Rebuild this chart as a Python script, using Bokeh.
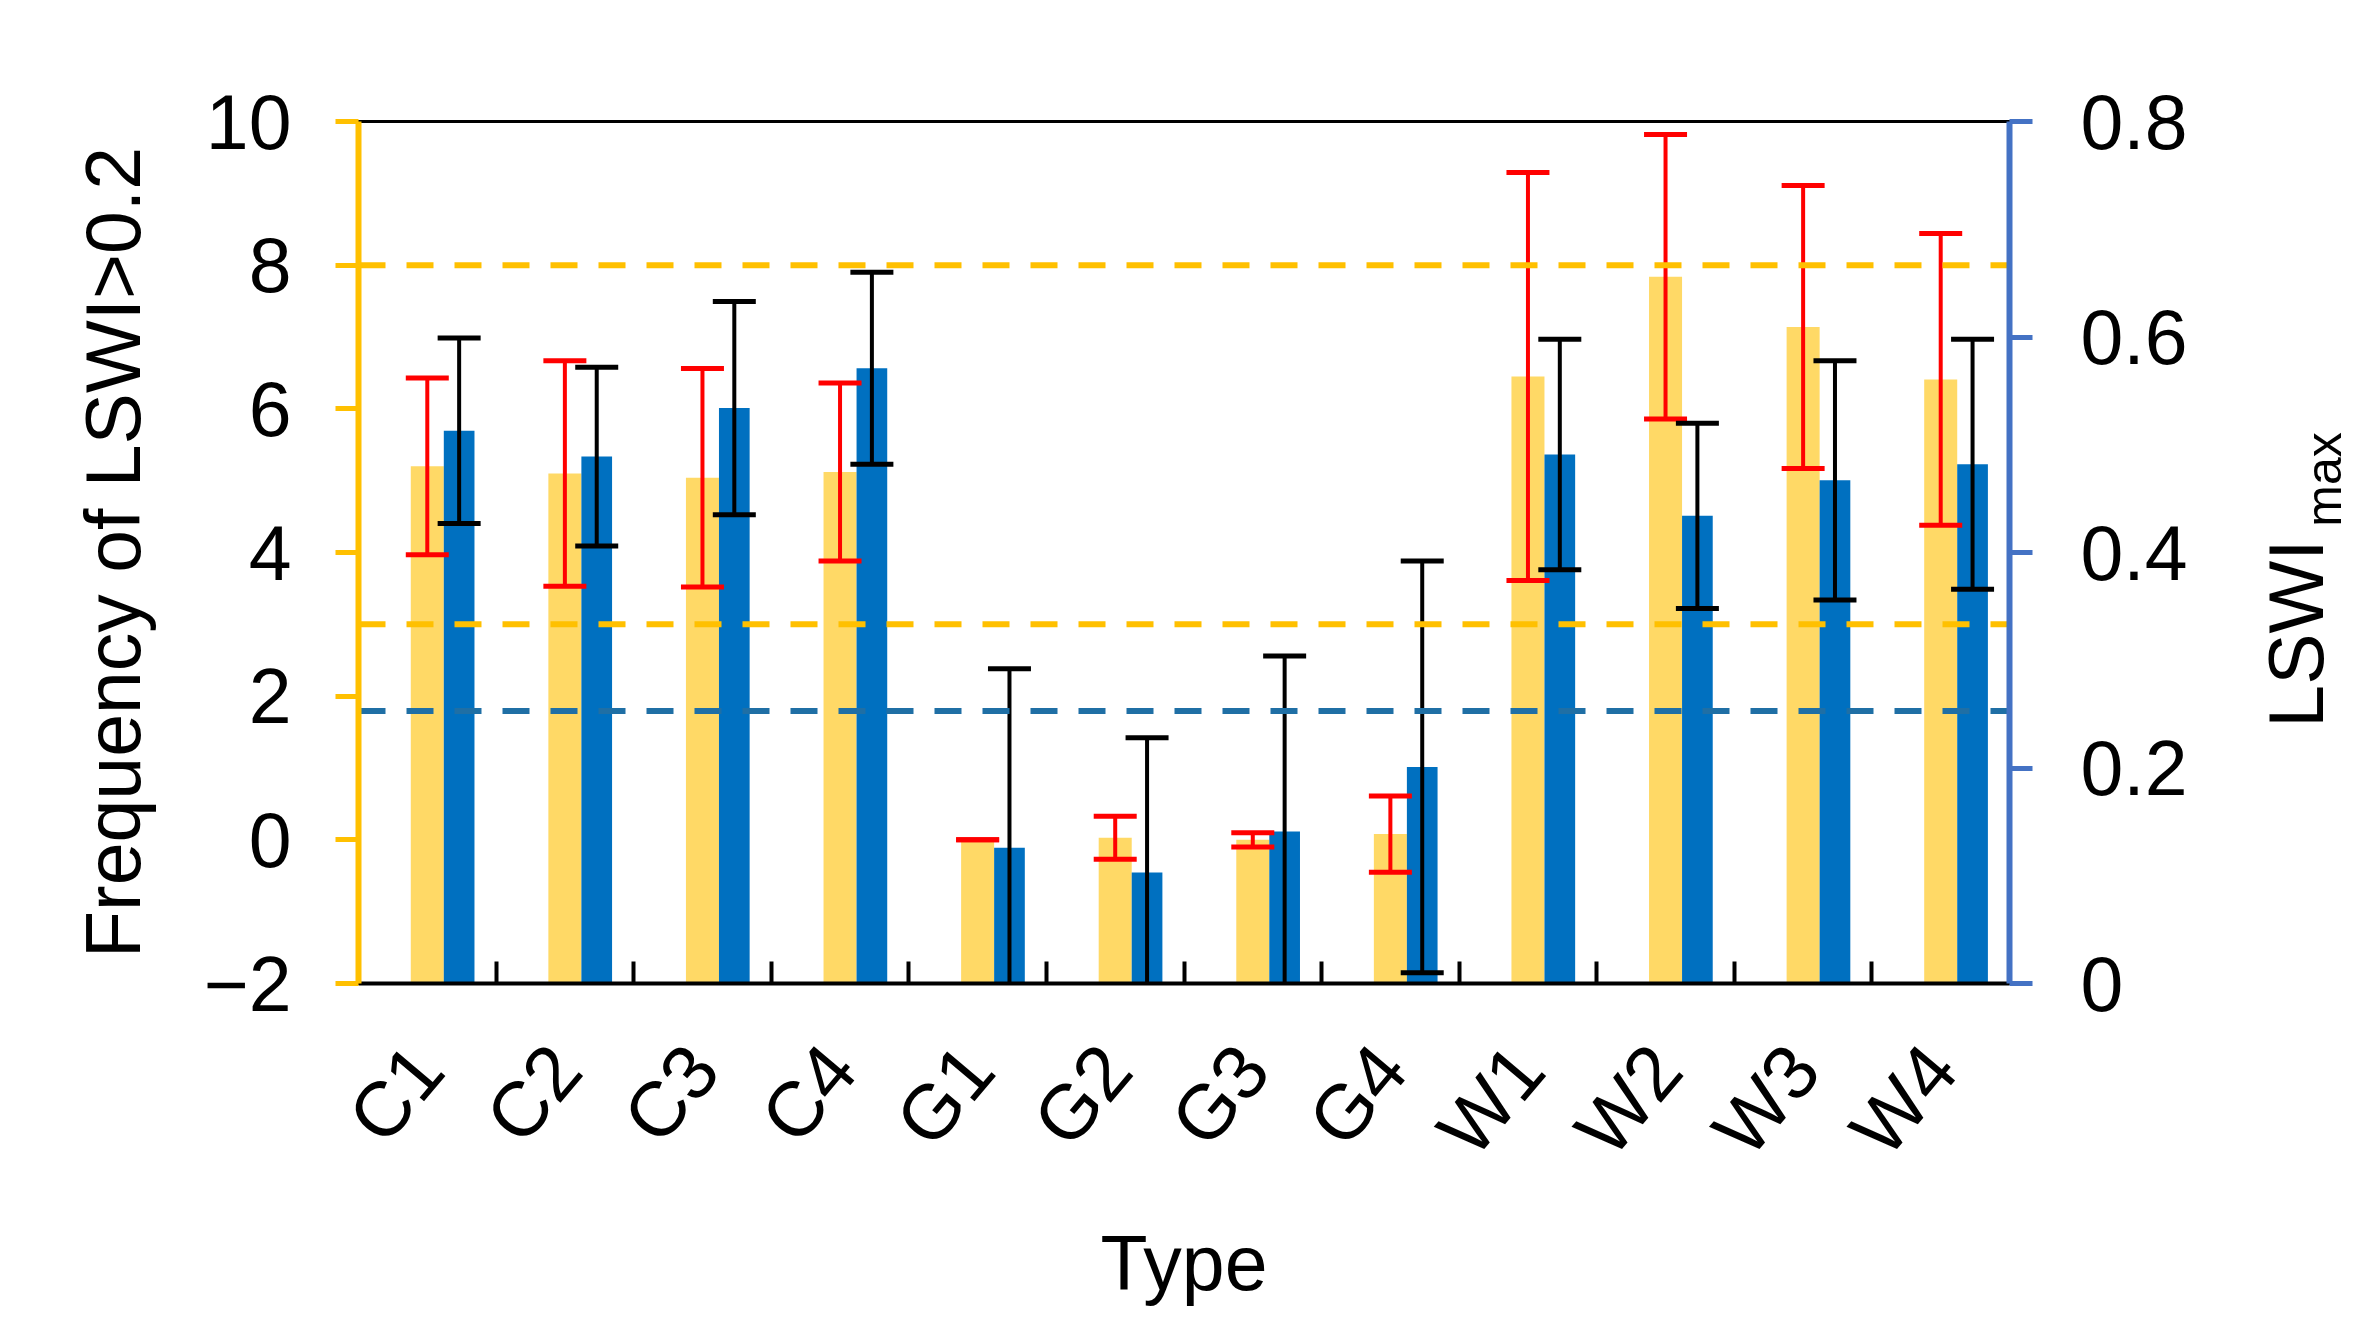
import math
import numpy as np
from bokeh.plotting import figure
from bokeh.layouts import row
from bokeh.models import Range1d, LinearAxis, FixedTicker, Span
from bokeh.core.properties import value
from bokeh.embed import file_html
from bokeh.resources import INLINE

# ---------------- data ----------------
categories = ["C1", "C2", "C3", "C4", "G1", "G2", "G3", "G4", "W1", "W2", "W3", "W4"]
freq_mean = [5.20, 5.10, 5.04, 5.12, 0.00, 0.03, 0.00, 0.08, 6.45, 7.84, 7.14, 6.41]
freq_sd = [1.23, 1.57, 1.52, 1.24, 0.00, 0.30, 0.10, 0.53, 2.84, 1.98, 1.97, 2.03]
lswi_mean = [0.513, 0.489, 0.534, 0.571, 0.126, 0.103, 0.141, 0.201, 0.491, 0.434, 0.467, 0.482]
lswi_sd = [0.086, 0.083, 0.099, 0.089, 0.166, 0.125, 0.163, 0.191, 0.107, 0.086, 0.111, 0.116]
freq_ticks = [-2, 0, 2, 4, 6, 8, 10]
freq_tick_labels = ["\u22122", "0", "2", "4", "6", "8", "10"]
lswi_ticks = [0, 0.2, 0.4, 0.6, 0.8]
lswi_tick_labels = ["0", "0.2", "0.4", "0.6", "0.8"]
freq_thresholds = [8, 3]
lswi_threshold = 0.253
right_title = "LSWI"
right_title_sub = "max"

# ---------------- styling ----------------
FONT = "Liberation Sans"
YELLOW_BAR = "#FFD966"
BLUE_BAR = "#0070C0"
AXIS_YELLOW = "#FFC000"
AXIS_BLUE = "#4472C4"
DASH_BLUE = "#1F6FA5"

TOTAL_W, H = 2355, 1326
MAIN_W = 2240

n = len(categories)
idx = np.arange(n)
x_yellow = idx + 0.5
x_blue = idx + 0.5 + 0.24 / 2 + 0.223 / 2

p = figure(width=MAIN_W, height=H, output_backend="svg", toolbar_location=None,
           x_range=Range1d(0, n), y_range=Range1d(-2, 10),
           frame_width=1651, frame_height=862,
           min_border_left=358, min_border_top=121, min_border_right=MAIN_W - 358 - 1651,
           min_border_bottom=343,
           background_fill_color="white", border_fill_color="white")
p.extra_y_ranges = {"lswi": Range1d(0, 0.8)}
p.grid.visible = False
p.outline_line_color = "black"
p.outline_line_width = 3

# x axis (category boundaries as inner minor ticks)
xa = p.xaxis[0]
xa.ticker = FixedTicker(ticks=list(x_yellow), minor_ticks=list(np.arange(0, n + 1)))
xa.major_label_overrides = {float(c): lab for c, lab in zip(x_yellow, categories)}
xa.major_label_orientation = 0.87
xa.major_tick_in = 0
xa.major_tick_out = 0
xa.minor_tick_in = 22
xa.minor_tick_out = 0
xa.minor_tick_line_color = "black"
xa.minor_tick_line_width = 4
xa.axis_line_color = "black"
xa.axis_line_width = 4
xa.major_label_text_font = FONT
xa.major_label_text_font_size = "77px"
xa.major_label_text_color = "black"
xa.major_label_standoff = 72
xa.axis_label = "Type"
xa.axis_label_text_font = FONT
xa.axis_label_text_font_size = "77px"
xa.axis_label_text_font_style = "normal"
xa.axis_label_text_color = "black"
xa.axis_label_standoff = 18

# left axis
ya = p.yaxis[0]
ya.ticker = FixedTicker(ticks=freq_ticks)
ya.major_label_overrides = {t: lab for t, lab in zip(freq_ticks, freq_tick_labels)}
ya.axis_line_color = AXIS_YELLOW
ya.axis_line_width = 6
ya.major_tick_line_color = AXIS_YELLOW
ya.major_tick_line_width = 5
ya.major_tick_in = 0
ya.major_tick_out = 23
ya.minor_tick_line_color = None
ya.major_label_text_font = FONT
ya.major_label_text_font_size = "77px"
ya.major_label_text_color = "black"
ya.major_label_standoff = 44
ya.axis_label = "Frequency of LSWI>0.2"
ya.axis_label_text_font = FONT
ya.axis_label_text_font_size = "77px"
ya.axis_label_text_font_style = "normal"
ya.axis_label_text_color = "black"
ya.axis_label_standoff = 45

# right axis
ra = LinearAxis(y_range_name="lswi", ticker=FixedTicker(ticks=lswi_ticks))
ra.major_label_overrides = {t: lab for t, lab in zip(lswi_ticks, lswi_tick_labels)}
ra.axis_line_color = AXIS_BLUE
ra.axis_line_width = 6
ra.major_tick_line_color = AXIS_BLUE
ra.major_tick_line_width = 5
ra.major_tick_in = 0
ra.major_tick_out = 23
ra.minor_tick_line_color = None
ra.major_label_text_font = FONT
ra.major_label_text_font_size = "77px"
ra.major_label_text_color = "black"
ra.major_label_standoff = 48
p.add_layout(ra, "right")

# bars
p.vbar(x=x_yellow, top=freq_mean, bottom=-2, width=0.24, fill_color=YELLOW_BAR, line_color=None)
p.vbar(x=x_blue, top=lswi_mean, bottom=0, width=0.223, fill_color=BLUE_BAR, line_color=None,
       y_range_name="lswi")

# threshold lines
for thr in freq_thresholds:
    p.add_layout(Span(location=thr, dimension="width", line_color=AXIS_YELLOW, line_width=6,
                      line_dash="27 21", level="glyph"))
p.add_layout(Span(location=lswi_threshold, dimension="width", line_color=DASH_BLUE, line_width=6,
                  line_dash="27 21", level="glyph", y_range_name="lswi"))

# error bars
f_lo = [m - s for m, s in zip(freq_mean, freq_sd)]
f_hi = [m + s for m, s in zip(freq_mean, freq_sd)]
l_lo = [m - s for m, s in zip(lswi_mean, lswi_sd)]
l_hi = [m + s for m, s in zip(lswi_mean, lswi_sd)]

p.segment(x0=x_yellow, y0=f_lo, x1=x_yellow, y1=f_hi, line_color="#FF0000", line_width=4)
p.dash(x=list(x_yellow) * 2, y=f_lo + f_hi, size=43, line_color="#FF0000", line_width=5)
p.segment(x0=x_blue, y0=l_lo, x1=x_blue, y1=l_hi, line_color="black", line_width=4,
          y_range_name="lswi")
p.dash(x=list(x_blue) * 2, y=l_lo + l_hi, size=43, line_color="black", line_width=5,
       y_range_name="lswi")

# ---------------- right-hand title panel (LSWI with subscript "max") ----------------
side_w = TOTAL_W - MAIN_W
t = figure(width=side_w, height=H, frame_width=side_w, frame_height=H,
           output_backend="svg", toolbar_location=None,
           x_axis_location=None, y_axis_location=None,
           x_range=Range1d(0, side_w), y_range=Range1d(0, H),
           min_border_left=0, min_border_right=0, min_border_top=0, min_border_bottom=0,
           background_fill_color="white", border_fill_color="white")
t.grid.visible = False
t.outline_line_color = None
t.text(x=[55], y=[H - 512], text=[right_title], angle=math.pi / 2,
       text_font=value(FONT), text_font_size=value("77px"), text_color="black",
       text_align="center", text_baseline="middle")
t.text(x=[83], y=[H - 358], text=[right_title_sub], angle=math.pi / 2,
       text_font=value(FONT), text_font_size=value("50px"), text_color="black",
       text_align="center", text_baseline="middle")

layout = row(p, t, spacing=0)
open("out.html", "w").write(file_html(layout, INLINE))
